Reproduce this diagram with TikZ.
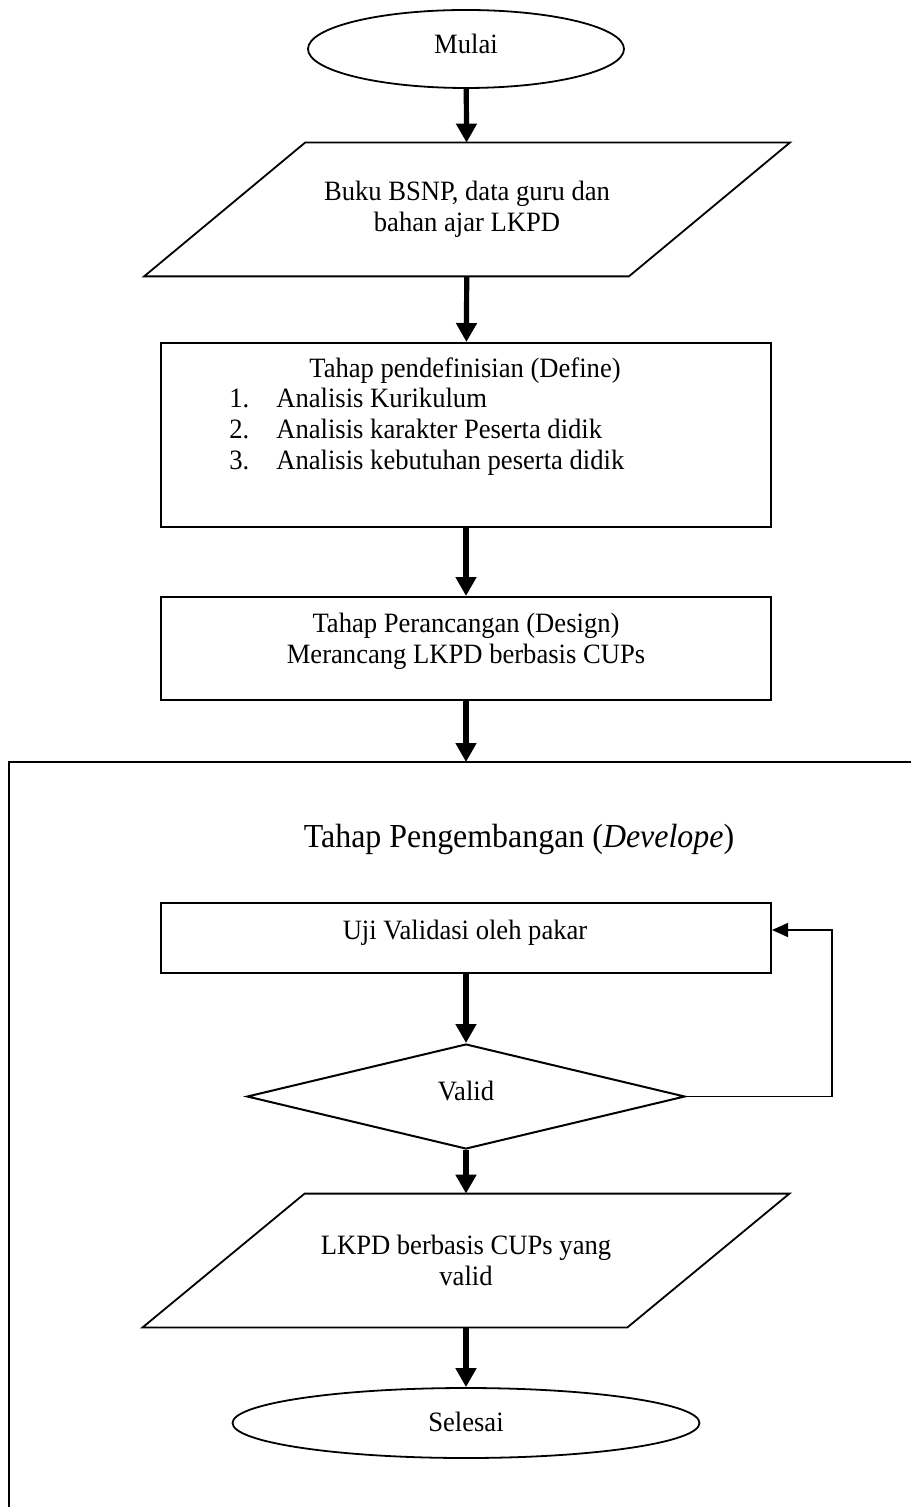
\documentclass[tikz,border=0pt]{standalone}
\usepackage{fontspec}
\setmainfont{Liberation Serif}[FakeStretch=0.95]
\usetikzlibrary{shapes.geometric,arrows.meta}

\begin{document}
\begin{tikzpicture}[x=0.5pt,y=-0.5pt,font=\fontsize{14}{15.5}\selectfont,
  every node/.style={inner sep=1pt},
  term/.style={draw,ellipse,line width=0.9pt,inner sep=0pt},
  box/.style={draw,rectangle,line width=1pt,minimum width=305pt},
  io/.style={rectangle,minimum width=242pt,minimum height=66.5pt,align=center},
  dec/.style={draw,diamond,line width=1pt,minimum width=219pt,minimum height=52.5pt,inner sep=0pt},
  flow/.style={line width=2.6pt,-{Triangle[length=9.5pt,width=10pt]}},
  back/.style={line width=0.8pt,-{Triangle[length=8pt,width=7pt]}}]
  \useasboundingbox (0,0) rectangle (910,1507);

  % bingkai tahap pengembangan (terbuka ke kanan dan bawah)
  \draw[line width=1pt] (914,762) -- (9,762) -- (9,1511);
  \coordinate (dvtop) at (466,762);

  \node[term,minimum width=158pt,minimum height=39pt,text height=9.5pt,text depth=5pt] (mulai) at (466,49) {Mulai};

  \node[io] (p1) at (467,209.5) {Buku BSNP, data guru dan\\bahan ajar LKPD};
  \draw[line width=0.9pt] ([xshift=40.25pt]p1.north west) -- ([xshift=40.25pt]p1.north east)
    -- ([xshift=-40.25pt]p1.south east) -- ([xshift=-40.25pt]p1.south west) -- cycle;

  \node[box,minimum height=92pt] (def) at (466,435) {};
  \node[anchor=base] (deft) at (465,378) {Tahap pendefinisian (Define)};
  \node[anchor=base west] (def1) at (227,408) {\makebox[23.5pt][l]{1.}Analisis Kurikulum};
  \node[anchor=base west] (def2) at (227,439) {\makebox[23.5pt][l]{2.}Analisis karakter Peserta didik};
  \node[anchor=base west] (def3) at (227,470) {\makebox[23.5pt][l]{3.}Analisis kebutuhan peserta didik};

  \node[box,minimum height=51.5pt] (des) at (466,648.5) {};
  \node[anchor=base] (des1) at (466,632) {Tahap Perancangan (Design)};
  \node[anchor=base] (des2) at (466,663) {Merancang LKPD berbasis CUPs};

  \node[anchor=base,font=\fontsize{16.8}{19}\selectfont] (dvt) at (519,847) {Tahap Pengembangan (\textit{Develope})};

  \node[box,minimum height=35pt] (uji) at (466,938) {};
  \node[anchor=base] (ujit) at (465,939) {Uji Validasi oleh pakar};

  \node[dec,text height=9.5pt,text depth=6pt] (valid) at (466,1096.5) {Valid};

  \node[io] (p2) at (466,1260.5) {LKPD berbasis CUPs yang\\valid};
  \draw[line width=0.9pt] ([xshift=40.5pt]p2.north west) -- ([xshift=40.5pt]p2.north east)
    -- ([xshift=-40.5pt]p2.south east) -- ([xshift=-40.5pt]p2.south west) -- cycle;

  \node[term,minimum width=233.5pt,minimum height=35pt,text height=9.5pt,text depth=1.1pt] (selesai) at (466,1423) {Selesai};

  \draw[flow] (mulai) -- (p1);
  \draw[flow] (p1) -- (def);
  \draw[flow] (def) -- (des);
  \draw[flow] (des) -- (dvtop);
  \draw[flow] (uji) -- (valid);
  \draw[flow] (valid) -- (p2);
  \draw[flow] (p2) -- (selesai);

  % umpan balik jika tidak valid
  \coordinate (lp) at (832,930);
  \draw[back] (valid.east) -| (lp) -- (uji.east |- lp);
\end{tikzpicture}
\end{document}
